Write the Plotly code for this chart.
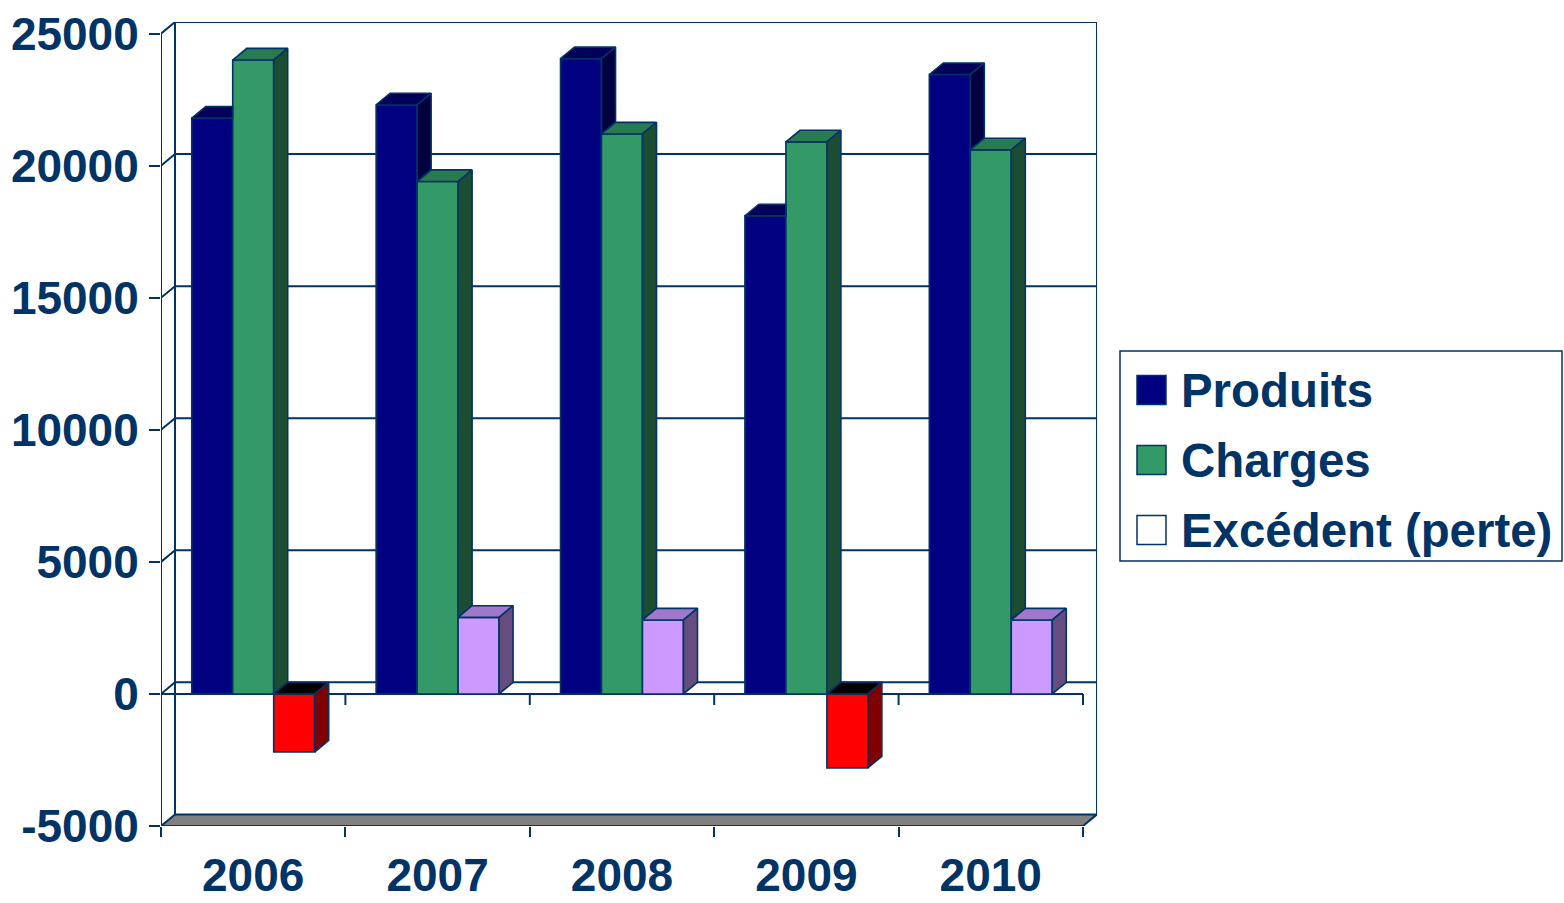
import plotly.graph_objects as go

# ---------------- data ----------------
years = ["2006", "2007", "2008", "2009", "2010"]
produits = [21800, 22300, 24050, 18100, 23450]
charges = [24000, 19400, 21200, 20900, 20600]
excedent = [-2200, 2900, 2800, -2800, 2800]
series_names = ["Produits", "Charges", "Excédent (perte)"]
y_ticks = [-5000, 0, 5000, 10000, 15000, 20000, 25000]
y_tick_labels = ["-5000", "0", "5000", "10000", "15000", "20000", "25000"]

# ---------------- style ----------------
FONT = "Liberation Sans, Arial, sans-serif"
TXT = "#003366"
EDGE = "#003366"
DX = 0.076          # depth offset in x units
DY = 440            # depth offset in y units
W = 2 / 9           # bar width
OFF0 = -1 / 3       # offset of first bar in the group
TICK_DOWN = 420     # length of the small ticks below the zero line (y units)

styles = [
    dict(front="#000080", top="#000058", side="#000040"),
    dict(front="#339966", top="#287a50", side="#1b4d33"),
    dict(front="#CC99FF", top="#9f78cc", side="#664d80",
         nfront="#FF0000", ntop="#000000", nside="#800000"),
]
series = [produits, charges, excedent]

n = len(years)
xs = list(range(n))
y_lo = y_ticks[0]
y_hi = y_ticks[-1]

fig = go.Figure()

# front faces (real bars)
for j, vals in enumerate(series):
    st = styles[j]
    cols = [st.get("nfront", st["front"]) if v < 0 else st["front"] for v in vals]
    fig.add_trace(go.Bar(
        x=xs, y=vals, width=W, offset=OFF0 + j * W,
        marker=dict(color=cols, line=dict(color=EDGE, width=1.6)),
        name=series_names[j], showlegend=False, hoverinfo="skip",
    ))


def poly(pts, color):
    px = [p[0] for p in pts] + [pts[0][0]]
    py = [p[1] for p in pts] + [pts[0][1]]
    fig.add_trace(go.Scatter(
        x=px, y=py, mode="lines", fill="toself", fillcolor=color,
        line=dict(color=EDGE, width=1.6), showlegend=False, hoverinfo="skip",
    ))


# 3D top and side faces, derived from the data values
for i in range(n):
    for j, vals in enumerate(series):
        st = styles[j]
        v = vals[i]
        x0 = i + OFF0 + j * W
        x1 = x0 + W
        vn = series[j + 1][i] if j < len(series) - 1 else None
        if v >= 0:
            if vn is not None and vn > v:
                poly([(x0, v), (x1, v), (x1, v + DY), (x0 + DX, v + DY)], st["top"])
            else:
                poly([(x0, v), (x1, v), (x1 + DX, v + DY), (x0 + DX, v + DY)], st["top"])
            if vn is None or vn < v:
                lo = 0 if vn is None else max(vn, 0)
                poly([(x1, lo), (x1 + DX, lo + DY), (x1 + DX, v + DY), (x1, v)], st["side"])
        else:
            poly([(x0, 0), (x1, 0), (x1 + DX, DY), (x0 + DX, DY)], st.get("ntop", st["top"]))
            poly([(x1, v), (x1 + DX, v + DY), (x1 + DX, DY), (x1, 0)], st.get("nside", st["side"]))

# ---------------- frame (shapes below traces) ----------------
shapes = []
xl, xr = -0.5, n - 0.5
# floor
shapes.append(dict(
    type="path", layer="below", xref="x", yref="y",
    path=f"M {xl},{y_lo} L {xr},{y_lo} L {xr + DX},{y_lo + DY} L {xl + DX},{y_lo + DY} Z",
    fillcolor="#808080", line=dict(color=EDGE, width=2)))
# back wall edges
for xe in (xl + DX, xr + DX):
    shapes.append(dict(type="line", layer="below", xref="x", yref="y",
                       x0=xe, x1=xe, y0=y_lo + DY, y1=y_hi + DY,
                       line=dict(color=EDGE, width=2)))
# gridlines on the back wall with their diagonal connectors
for v in y_ticks[1:]:
    shapes.append(dict(
        type="path", layer="below", xref="x", yref="y",
        path=f"M {xl},{v} L {xl + DX},{v + DY} L {xr + DX},{v + DY}",
        line=dict(color=EDGE, width=2)))
# front vertical axis line
shapes.append(dict(type="line", layer="below", xref="x", yref="y",
                   x0=xl, x1=xl, y0=y_lo, y1=y_hi, line=dict(color=EDGE, width=2)))
# front zero line with its ticks
shapes.append(dict(type="line", layer="below", xref="x", yref="y",
                   x0=xl, x1=xr, y0=0, y1=0, line=dict(color=EDGE, width=2)))
for k in range(1, n + 1):
    xb = k - 0.5
    shapes.append(dict(type="line", layer="below", xref="x", yref="y",
                       x0=xb, x1=xb, y0=0, y1=-TICK_DOWN, line=dict(color=EDGE, width=2)))

# ---------------- layout geometry ----------------
FIG_W, FIG_H = 1564, 903
L, R, T, B = 161, 1097, 22, 826   # plot area in pixels


def px2paper(px, py):
    return (px - L) / (R - L), (B - py) / (B - T)


# ---------------- manual legend (paper coords) ----------------
lx0, ly0 = px2paper(1120, 351)
lx1, ly1 = px2paper(1562, 561)
shapes.append(dict(type="rect", xref="paper", yref="paper", x0=lx0, x1=lx1, y0=ly1, y1=ly0,
                   fillcolor="white", line=dict(color=EDGE, width=1.5), layer="above"))
legend_fill = [styles[0]["front"], styles[1]["front"], "#FFFFFF"]
annotations = []
for k, name in enumerate(series_names):
    cy = 390 + 70 * k
    sx0, sy0 = px2paper(1137, cy - 14.5)
    sx1, sy1 = px2paper(1166, cy + 14.5)
    shapes.append(dict(type="rect", xref="paper", yref="paper", x0=sx0, x1=sx1, y0=sy1, y1=sy0,
                       fillcolor=legend_fill[k], line=dict(color=EDGE, width=1.5), layer="above"))
    tx, ty = px2paper(1179, cy)
    annotations.append(dict(xref="paper", yref="paper", x=tx, y=ty, text=name,
                            xanchor="left", yanchor="middle", showarrow=False,
                            font=dict(family=FONT, size=47.4, color=TXT, weight="bold")))

fig.update_layout(
    width=FIG_W, height=FIG_H,
    margin=dict(l=L, r=FIG_W - R, t=T, b=FIG_H - B, pad=0, autoexpand=False),
    paper_bgcolor="white", plot_bgcolor="white",
    barmode="overlay",
    showlegend=False,
    shapes=shapes, annotations=annotations,
    xaxis=dict(
        range=[xl, xr + DX], tickmode="array", tickvals=xs, ticktext=years,
        ticks="", showgrid=False, zeroline=False, showline=False, automargin=False,
        tickfont=dict(family=FONT, size=46, color=TXT, weight="bold"),
        ticklabelstandoff=18, ticklabeloverflow="allow",
        minor=dict(tickmode="array", tickvals=[k - 0.5 for k in range(n + 1)],
                   ticks="outside", ticklen=10, tickwidth=2, tickcolor=EDGE, showgrid=False),
        fixedrange=True,
    ),
    yaxis=dict(
        range=[y_lo, y_hi + DY], tickmode="array", tickvals=y_ticks, ticktext=y_tick_labels,
        ticks="outside", ticklen=11, tickwidth=2, tickcolor=EDGE,
        showgrid=False, zeroline=False, showline=False, automargin=False,
        tickfont=dict(family=FONT, size=46, color=TXT, weight="bold"),
        ticklabelstandoff=1, ticklabeloverflow="allow",
        fixedrange=True,
    ),
)

fig.write_html("out.html", config={"displayModeBar": False},
               post_script="document.body.style.margin='0px';")
